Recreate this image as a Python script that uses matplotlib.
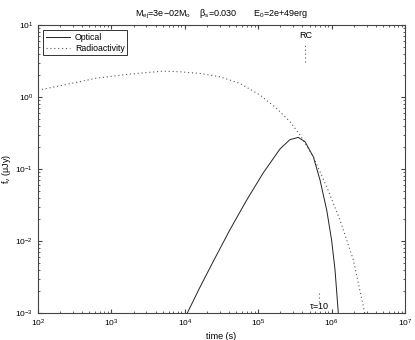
import matplotlib
matplotlib.use("Agg")
import matplotlib.pyplot as plt
import numpy as np

plt.rcParams['font.family'] = ['Liberation Sans', 'DejaVu Sans']
plt.rcParams['mathtext.fontset'] = 'custom'
plt.rcParams['mathtext.rm'] = 'Liberation Sans'
plt.rcParams['mathtext.it'] = 'Liberation Sans'

# log10(time) and log10(flux)
opt_logt = [4.034, 4.207, 4.389, 4.616, 4.843, 5.07, 5.297, 5.433, 5.546, 5.638,
            5.751, 5.842, 5.933, 6.0, 6.046, 6.091]
opt_logf = [-3.0, -2.64, -2.28, -1.84, -1.43, -1.05, -0.72, -0.59, -0.56, -0.62,
            -0.83, -1.153, -1.57, -1.99, -2.40, -3.0]

rad_logt = [2.0, 2.345, 2.80, 3.25, 3.70, 3.935, 4.207, 4.48, 4.752, 5.025, 5.252,
            5.433, 5.57, 5.751, 5.933, 6.114, 6.296, 6.432, 6.45]
rad_logf = [0.097, 0.167, 0.264, 0.32, 0.361, 0.352, 0.329, 0.282, 0.19, 0.028, -0.157,
            -0.343, -0.528, -0.83, -1.246, -1.708, -2.264, -2.91, -3.0]

rc_t = 4.4e5
rc_f = [3.1, 5.3]
tau_t = 6.8e5
tau_f = [1.4e-3, 1.9e-3]

dotted = (0, (1, 2.5))

fig = plt.figure(figsize=(4.15, 3.4), dpi=100)
ax = fig.add_axes([0.0916, 0.0794, 0.8844, 0.8466])

ax.plot(10 ** np.array(opt_logt), 10 ** np.array(opt_logf), '-', color='#222222', lw=0.7, label='Optical')
ax.plot(10 ** np.array(rad_logt), 10 ** np.array(rad_logf), linestyle=dotted, color='#555555', lw=0.8,
        label='Radioactivity')

ax.plot([rc_t, rc_t], rc_f, linestyle=dotted, color='#555555', lw=0.8)
ax.text(rc_t, 6.3, 'RC', fontsize=6.5, ha='center', va='bottom')
ax.plot([tau_t, tau_t], tau_f, linestyle=dotted, color='#555555', lw=0.8)
ax.text(tau_t, 1.05e-3, r'$\tau$=10', fontsize=6.5, ha='center', va='bottom')

ax.set_xscale('log')
ax.set_yscale('log')
ax.set_xlim(1e2, 1e7)
ax.set_ylim(1e-3, 1e1)

ax.tick_params(which='both', direction='in', top=True, right=True, labelsize=6, color='#444444')
ax.tick_params(which='major', length=3)
ax.tick_params(which='minor', length=1.5)
for s in ax.spines.values():
    s.set_color('#444444')
    s.set_linewidth(0.8)

ax.set_xlabel('time (s)', fontsize=6.5, labelpad=2)
ax.set_ylabel(r'f$_\nu$ ($\mu$Jy)', fontsize=6.5, labelpad=2)
ax.set_title(r'M$_{ej}$=3e$-$02M$_{o}$    $\beta_s$=0.030       E$_0$=2e+49erg', fontsize=6.5, pad=6)

leg = ax.legend(loc='upper left', fontsize=6.3, fancybox=False, edgecolor='k',
                handlelength=2.8, handletextpad=0.5, borderpad=0.3, labelspacing=0.2, borderaxespad=0.6)
leg.get_frame().set_linewidth(0.7)

fig.savefig('out.png', dpi=100)
